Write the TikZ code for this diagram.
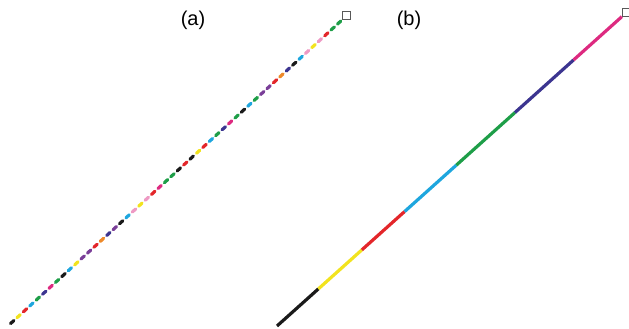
\documentclass[tikz,border=0pt]{standalone}
\usepackage{fontspec}
\setmainfont{Liberation Sans}
\usetikzlibrary{calc}

\definecolor{segblack}{HTML}{1A1A1A}
\definecolor{segyellow}{HTML}{F2E31E}
\definecolor{segred}{HTML}{E3262A}
\definecolor{segcyan}{HTML}{1EA6DE}
\definecolor{seggreen}{HTML}{1E9E48}
\definecolor{segnavy}{HTML}{3C3590}
\definecolor{segmagenta}{HTML}{DD2A80}
\definecolor{segorange}{HTML}{EE8A2A}
\definecolor{segpink}{HTML}{EE9AC4}
\definecolor{segviolet}{HTML}{7A3E98}

\begin{document}
\begin{tikzpicture}[x=1pt,y=-1pt,
    seg/.style={line width=3.2pt, line cap=round},
    band/.style={line width=3.2pt},
    endbox/.style={draw=gray!70!black, fill=white, line width=0.8pt, minimum size=7.5pt, inner sep=0pt},
    lab/.style={font=\fontsize{20}{20}\selectfont}]
    \useasboundingbox (0,0) rectangle (629,329);

    % Panel labels
    \node[lab] (la) at (193,20) {(a)};
    \node[lab] (lb) at (409,20) {(b)};

    % End markers
    \node[endbox] (sqa) at (346.5,15.5) {};
    \node[endbox] (sqb) at (626,12.5) {};

    % (a) many short coloured pieces
    \coordinate (a0) at (9,325);
    \coordinate (a1) at (sqa.south west);
    \foreach \col [count=\i] in {segblack,segyellow,segred,segcyan,seggreen,segnavy,segmagenta,seggreen,
        segblack,segcyan,segyellow,segviolet,segviolet,segred,segorange,segnavy,segviolet,segblack,
        segcyan,segpink,segyellow,segpink,segred,segmagenta,seggreen,seggreen,segblack,segred,
        segblack,segyellow,segred,segcyan,seggreen,segnavy,segmagenta,seggreen,segblack,segcyan,
        seggreen,segviolet,segviolet,segred,segorange,segnavy,segblack,segcyan,segpink,segyellow,
        segpink,segred,seggreen,seggreen}{
        \pgfmathsetmacro\ta{(\i-0.76)/52}
        \pgfmathsetmacro\tb{(\i-0.24)/52}
        \draw[seg,\col] ($(a0)!\ta!(a1)$) -- ($(a0)!\tb!(a1)$);
    }

    % (b) seven long coloured pieces
    \coordinate (b0) at (277,326);
    \coordinate (b7) at (sqb.south west);
    \coordinate (b1) at ($(b0)!0.12!(b7)$);
    \coordinate (b2) at ($(b0)!0.246!(b7)$);
    \coordinate (b3) at ($(b0)!0.37!(b7)$);
    \coordinate (b4) at ($(b0)!0.52!(b7)$);
    \coordinate (b5) at ($(b0)!0.69!(b7)$);
    \coordinate (b6) at ($(b0)!0.86!(b7)$);
    \draw[band,segblack] (b0) -- (b1);
    \draw[band,segyellow] (b1) -- (b2);
    \draw[band,segred] (b2) -- (b3);
    \draw[band,segcyan] (b3) -- (b4);
    \draw[band,seggreen] (b4) -- (b5);
    \draw[band,segnavy] (b5) -- (b6);
    \draw[band,segmagenta] (b6) -- (b7);
\end{tikzpicture}
\end{document}
